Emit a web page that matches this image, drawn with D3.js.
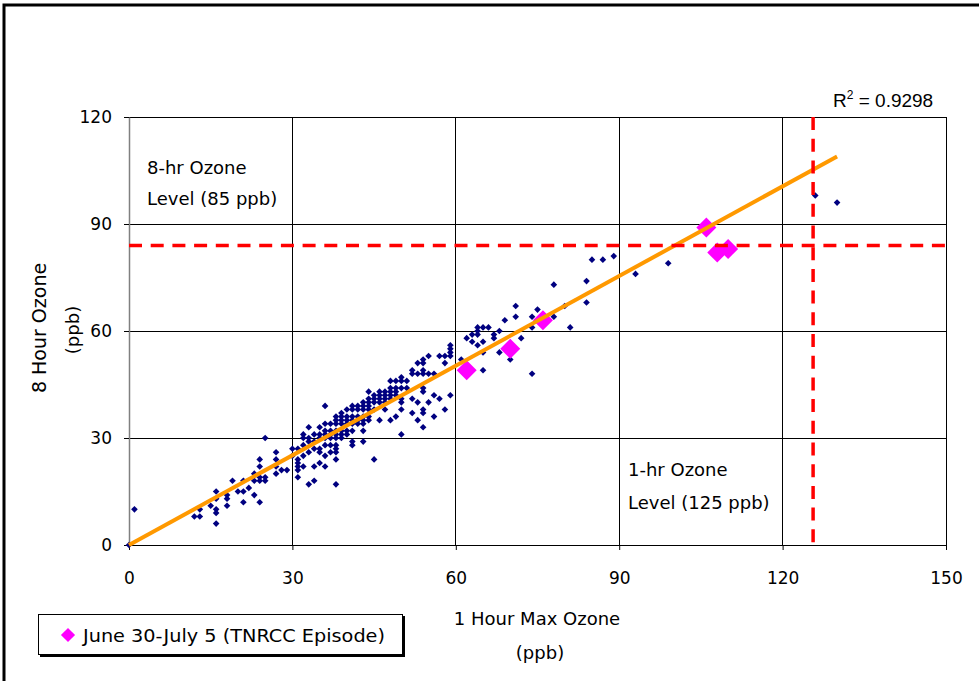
<!DOCTYPE html>
<html>
<head>
<meta charset="utf-8">
<script src="https://cdn.jsdelivr.net/npm/d3@7"></script>
<style>
  body { margin: 0; background: #fff; }
  text { font-family: "DejaVu Sans", sans-serif; fill: #000; }
</style>
</head>
<body>
<div id="chart"></div>
<script>
// daily readings: [1 hour max ozone, [8 hour ozone values seen at that 1 hour value]]
const dailyReadings = [
  [0,[0]],[1,[10]],[12,[8]],[13,[8,10]],[15,[11]],[16,[15,13,10,9,6]],[18,[14,13,11]],
  [19,[18]],[20,[15]],[21,[18,15,12]],[22,[16]],[23,[20,18,14]],[24,[24,22,19,18,12]],
  [25,[30,19,18]],[27,[26,24,22,20]],[28,[21]],[29,[21]],[30,[27,25]],
  [31,[27,24,23,22,21,19]],[32,[31,30,28,25,22]],[33,[33,30,29,26,17]],
  [34,[31,29,27,22,18]],[35,[33,31,30,27,26,23]],[36,[39,34,32,31,30,28,25,22]],
  [37,[34,32,31,30,28,26]],[38,[36,35,34,32,31,30,28,27,26,24,17]],
  [39,[37,36,35,34,32,31,30]],[40,[38,36,35,34,32,31]],[41,[39,38,36,35,34,32,29,28]],
  [42,[39,38,36,35,34]],[43,[40,39,38,36,35,34,32,29]],[44,[43,41,40,39,38,36,35]],
  [45,[42,41,40,38,24]],[46,[43,42,41,40,35]],[47,[43,42,41,40,38]],
  [48,[46,44,43,42,41,35]],[49,[46,44,43,42,36]],[50,[47,46,44,41,40,38,31]],
  [51,[46,44]],[52,[49,48,41,37]],[53,[51,48,40,35]],[54,[52,51,49,48,44,43,38,37,33]],
  [55,[53,48,40]],[56,[48,42,36]],[57,[53,41]],[58,[53,51,38]],[59,[56,55,54,53,42]],
  [61,[52]],[62,[58]],[63,[59,57]],[64,[61,60,59,56]],[65,[61,57,54,49]],[66,[61]],
  [67,[59,58]],[68,[60,54]],[69,[63]],[70,[52]],[71,[67,64]],[72,[58]],[74,[64,61,48]],
  [75,[66]],[78,[73,64]],[80,[67]],[81,[61]],[84,[74,68]],[85,[80]],[87,[80]],
  [89,[81]],[93,[76]],[99,[79]],[126,[98]],[130,[96]]
];

// June 30 - July 5 episode
const episodeHourMax  = [62, 70, 76, 106, 108, 110];
const episodeEightHour = [49, 55, 63, 89, 82, 83];

const xTicks = [0, 30, 60, 90, 120, 150];
const yTicks = [0, 30, 60, 90, 120];

const trendSlope = 0.838;      // linear trend through the origin
const eightHrLevel = 84;
const oneHrLevel = 125.6;
const rSquared = "0.9298";

var margin = {top: 117, left: 129},
    width = 817,
    height = 428;

var svg = d3.select("#chart").append("svg")
    .attr("width", 979)
    .attr("height", 681);

// outer frame
svg.append("rect")
    .attr("x", 4).attr("y", 5)
    .attr("width", 1100).attr("height", 800)
    .attr("fill", "none")
    .attr("stroke", "#000")
    .attr("stroke-width", 3);

var g = svg.append("g")
    .attr("transform", "translate(" + margin.left + "," + margin.top + ")");

var x = d3.scaleLinear().domain([0, 150]).range([0, width]);
var y = d3.scaleLinear().domain([0, 120]).range([height, 0]);

// gridlines
g.append("g").selectAll("line")
    .data(xTicks.slice(1))
    .enter().append("line")
    .attr("x1", d => x(d)).attr("x2", d => x(d))
    .attr("y1", 0).attr("y2", height)
    .attr("stroke", "#000").attr("stroke-width", 1)
    .attr("shape-rendering", "crispEdges");

g.append("g").selectAll("line")
    .data(yTicks.slice(1))
    .enter().append("line")
    .attr("x1", 0).attr("x2", width)
    .attr("y1", d => y(d)).attr("y2", d => y(d))
    .attr("stroke", "#000").attr("stroke-width", 1)
    .attr("shape-rendering", "crispEdges");

// axes
var xAxis = g.append("g")
    .attr("transform", "translate(0," + height + ")")
    .call(d3.axisBottom(x).tickValues(xTicks).tickSize(5).tickPadding(22).tickSizeOuter(0));
var yAxis = g.append("g")
    .call(d3.axisLeft(y).tickValues(yTicks).tickSize(5).tickPadding(12).tickSizeOuter(0));

[xAxis, yAxis].forEach(a => {
  a.selectAll("text").style("font-family", "\"DejaVu Sans\", sans-serif").style("font-size", "17px").attr("fill", "#000");
  a.selectAll(".tick line").attr("stroke", "#000");
});
xAxis.select(".domain").attr("stroke", "#000");
yAxis.select(".domain").attr("stroke", "#808080").attr("stroke-width", 1.5);

// daily points
var points = dailyReadings.flatMap(([h, eights]) => eights.map(e => ({h: h, e: e})));
var smallDiamond = d3.symbol().type(d3.symbolSquare).size(22);

g.append("g").selectAll("path")
    .data(points)
    .enter().append("path")
    .attr("d", smallDiamond)
    .attr("transform", d => "translate(" + x(d.h) + "," + y(d.e) + ") rotate(45)")
    .attr("fill", "#000080");

// episode points
var bigDiamond = d3.symbol().type(d3.symbolSquare).size(200);
g.append("g").selectAll("path")
    .data(episodeHourMax.map((h, i) => ({h: h, e: episodeEightHour[i]})))
    .enter().append("path")
    .attr("d", bigDiamond)
    .attr("transform", d => "translate(" + x(d.h) + "," + y(d.e) + ") rotate(45)")
    .attr("fill", "#FF00FF");

// trend line
var maxHour = d3.max(points, d => d.h);
g.append("line")
    .attr("x1", x(0)).attr("y1", y(0))
    .attr("x2", x(maxHour)).attr("y2", y(trendSlope * maxHour))
    .attr("stroke", "#FF9900")
    .attr("stroke-width", 4);

// standard levels
g.append("line")
    .attr("x1", 0).attr("x2", width)
    .attr("y1", y(eightHrLevel)).attr("y2", y(eightHrLevel))
    .attr("stroke", "#FF0000").attr("stroke-width", 3.5)
    .attr("stroke-dasharray", "13,8.7");
g.append("line")
    .attr("x1", x(oneHrLevel)).attr("x2", x(oneHrLevel))
    .attr("y1", 0).attr("y2", height)
    .attr("stroke", "#FF0000").attr("stroke-width", 3.5)
    .attr("stroke-dasharray", "13,8.7");

// annotations
function label(px, py, txt, anchor, size) {
  return svg.append("text")
      .attr("x", px).attr("y", py)
      .attr("text-anchor", anchor || "start")
      .style("font-size", (size || 18) + "px")
      .text(txt);
}
label(147, 174, "8-hr Ozone");
label(147, 205, "Level (85 ppb)");
label(628, 476, "1-hr Ozone");
label(628, 509, "Level (125 ppb)");

label(537, 625, "1 Hour Max Ozone", "middle");
label(540, 659, "(ppb)", "middle");

svg.append("text")
    .attr("transform", "translate(46,328) rotate(-90)")
    .attr("text-anchor", "middle")
    .style("font-size", "19px")
    .text("8 Hour Ozone");
svg.append("text")
    .attr("transform", "translate(79,330) rotate(-90)")
    .attr("text-anchor", "middle")
    .style("font-size", "18px")
    .text("(ppb)");

// R squared
var r2 = svg.append("text")
    .attr("x", 833).attr("y", 107)
    .style("font-family", "\"Liberation Sans\", Arial, sans-serif")
    .style("font-size", "19px");
r2.append("tspan").text("R");
r2.append("tspan").attr("dy", -8).style("font-size", "12px").text("2");
r2.append("tspan").attr("dy", 8).text(" = " + rSquared);

// legend
var lg = svg.append("g").attr("transform", "translate(38,614)");
lg.append("rect").attr("x", 2).attr("y", 2).attr("width", 365).attr("height", 41).attr("fill", "#000");
lg.append("rect").attr("x", 0.5).attr("y", 0.5).attr("width", 364).attr("height", 40)
    .attr("fill", "#fff").attr("stroke", "#000").attr("stroke-width", 1);
lg.append("path")
    .attr("d", d3.symbol().type(d3.symbolSquare).size(100))
    .attr("transform", "translate(30,21) rotate(45)")
    .attr("fill", "#FF00FF");
lg.append("text").attr("x", 45).attr("y", 28).style("font-size", "18px")
    .attr("textLength", 302).attr("lengthAdjust", "spacingAndGlyphs")
    .text("June 30-July 5 (TNRCC Episode)");
</script>
</body>
</html>
